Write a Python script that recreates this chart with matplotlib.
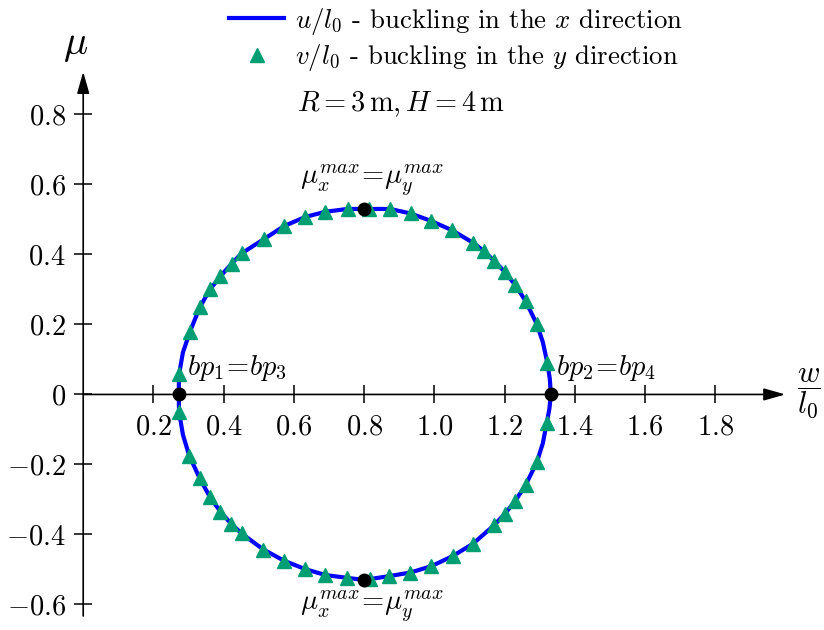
"""Buckling interaction curve: load factor mu against w/l0."""

import matplotlib

matplotlib.use("Agg")
import matplotlib.pyplot as plt  # noqa: E402
from matplotlib.lines import Line2D  # noqa: E402
from matplotlib.ticker import FuncFormatter  # noqa: E402

plt.rcParams["font.family"] = "serif"
plt.rcParams["font.serif"] = ["cmr10", "DejaVu Serif"]
plt.rcParams["mathtext.fontset"] = "cm"
plt.rcParams["axes.unicode_minus"] = False

BLUE = "#0000FF"
GREEN = "#009E73"
INK = "black"
FS = 20.5

# u/l0 curve, read around the loop: left crossing -> top -> right crossing -> bottom
u_w = [0.272, 0.273, 0.284, 0.304, 0.332, 0.361, 0.391, 0.423, 0.451, 0.515,
       0.572, 0.632, 0.690, 0.753, 0.800, 0.874, 0.933, 0.990, 1.051, 1.111,
       1.142, 1.171, 1.201, 1.231, 1.260, 1.292, 1.309, 1.322, 1.329, 1.332,
       1.328, 1.320, 1.309, 1.292, 1.260, 1.230, 1.200, 1.171, 1.111, 1.052,
       0.991, 0.931, 0.872, 0.800, 0.752, 0.690, 0.632, 0.572, 0.513, 0.451,
       0.421, 0.391, 0.361, 0.332, 0.302, 0.284, 0.273, 0.272]
u_mu = [0.000, 0.057, 0.120, 0.179, 0.249, 0.300, 0.338, 0.374, 0.403, 0.444,
        0.481, 0.507, 0.522, 0.530, 0.530, 0.530, 0.517, 0.496, 0.469, 0.433,
        0.409, 0.381, 0.350, 0.312, 0.267, 0.201, 0.150, 0.090, 0.045, 0.000,
        -0.040, -0.083, -0.140, -0.194, -0.259, -0.305, -0.342, -0.373, -0.426, -0.462,
        -0.491, -0.509, -0.519, -0.530, -0.524, -0.516, -0.499, -0.475, -0.443, -0.397,
        -0.369, -0.335, -0.293, -0.240, -0.175, -0.115, -0.050, 0.000]

# v/l0 solution points
v_w = [0.273, 0.304, 0.332, 0.361, 0.391, 0.423, 0.451, 0.515, 0.572, 0.632,
       0.690, 0.753, 0.814, 0.874, 0.933, 0.990, 1.051, 1.111, 1.142, 1.171,
       1.201, 1.231, 1.260, 1.292, 1.322,
       0.273, 0.302, 0.332, 0.361, 0.391, 0.421, 0.451, 0.513, 0.572, 0.632,
       0.690, 0.752, 0.817, 0.872, 0.931, 0.991, 1.052, 1.111, 1.171, 1.200,
       1.230, 1.260, 1.292, 1.320]
v_mu = [0.057, 0.179, 0.249, 0.300, 0.338, 0.374, 0.403, 0.444, 0.481, 0.507,
        0.522, 0.530, 0.530, 0.530, 0.517, 0.496, 0.469, 0.433, 0.409, 0.381,
        0.350, 0.312, 0.267, 0.201, 0.090,
        -0.050, -0.175, -0.240, -0.293, -0.335, -0.369, -0.397, -0.443, -0.475, -0.499,
        -0.516, -0.524, -0.526, -0.519, -0.509, -0.491, -0.462, -0.426, -0.373, -0.342,
        -0.305, -0.259, -0.194, -0.083]

# bifurcation points and load maxima
key_w = [0.272, 1.332, 0.800, 0.800]
key_mu = [0.000, 0.000, 0.530, -0.530]

x_ticks = [0.2, 0.4, 0.6, 0.8, 1.0, 1.2, 1.4, 1.6, 1.8]
y_ticks = [-0.6, -0.4, -0.2, 0.0, 0.2, 0.4, 0.6, 0.8]


def tick_fmt(v, _pos):
    return "$0$" if abs(v) < 1e-9 else f"${v:.1f}$"


fig = plt.figure(figsize=(8.24, 6.30), dpi=100)
ax = fig.add_axes([0, 0, 1, 1])
ax.set_xlim(-0.237, 2.110)
ax.set_ylim(-0.673, 1.127)

for side in ("top", "right"):
    ax.spines[side].set_visible(False)
for side in ("left", "bottom"):
    ax.spines[side].set_position(("data", 0))
    ax.spines[side].set_visible(False)

# axes with narrow arrow heads
arrow = dict(arrowstyle="-|>,head_length=0.6,head_width=0.17", lw=1.2, color=INK,
             shrinkA=0, shrinkB=0, mutation_scale=22)
ax.annotate("", xy=(2.0, 0), xytext=(0, 0), arrowprops=arrow, zorder=1)
ax.annotate("", xy=(0, 0.922), xytext=(0, -0.633), arrowprops=arrow, zorder=1)

ax.set_xticks(x_ticks)
ax.set_yticks(y_ticks)
ax.xaxis.set_major_formatter(FuncFormatter(tick_fmt))
ax.yaxis.set_major_formatter(FuncFormatter(tick_fmt))
ax.tick_params(direction="inout", length=13, width=1.1, labelsize=FS, color=INK)
ax.tick_params(axis="x", pad=8)
ax.tick_params(axis="y", pad=6)

ax.plot(u_w, u_mu, color=BLUE, lw=3, zorder=3)
ax.plot(v_w, v_mu, ls="none", marker="^", ms=10, color=GREEN, zorder=4)
ax.plot(key_w, key_mu, ls="none", marker="o", ms=9, color=INK, zorder=5)

ax.text(0.295, 0.075, r"$bp_1\!=\!bp_3$", fontsize=FS, ha="left", va="center")
ax.text(1.348, 0.075, r"$bp_2\!=\!bp_4$", fontsize=FS, ha="left", va="center")
ax.text(0.822, 0.612, r"$\mu_x^{max}\!=\!\mu_y^{max}$", fontsize=FS,
        ha="center", va="center")
ax.text(0.822, -0.605, r"$\mu_x^{max}\!=\!\mu_y^{max}$", fontsize=FS,
        ha="center", va="center")

ax.text(-0.022, 0.995, r"$\mu$", fontsize=29, ha="center", va="center")
ax.text(2.067, 0.0, r"$\dfrac{w}{l_0}$", fontsize=22, ha="center", va="center")
ax.text(0.905, 0.83, r"$R=3\,\mathrm{m}, H=4\,\mathrm{m}$", fontsize=FS,
        ha="center", va="center")

handles = [
    Line2D([], [], color=BLUE, lw=3),
    Line2D([], [], ls="none", marker="^", ms=10, color=GREEN),
]
labels = [
    r"$u/l_0$ - buckling in the $x$ direction",
    r"$v/l_0$ - buckling in the $y$ direction",
]
ax.legend(handles, labels, loc="upper left", bbox_to_anchor=(0.265, 1.008),
          frameon=False, fontsize=19.3, handlelength=2.05, handletextpad=0.4,
          labelspacing=0.2, borderaxespad=0)

fig.savefig("out.png", dpi=100, facecolor="white")
